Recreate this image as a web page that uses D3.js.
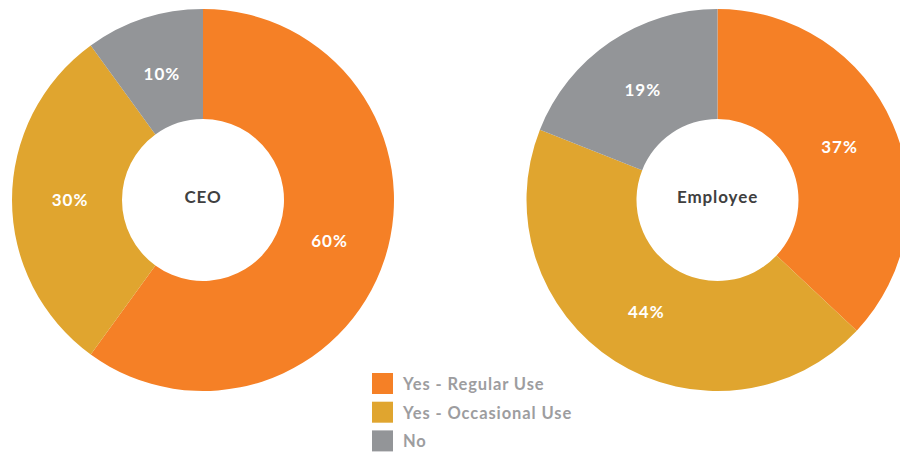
<!DOCTYPE html>
<html>
<head>
<meta charset="utf-8">
<script src="https://cdn.jsdelivr.net/npm/d3@7"></script>
<style>
  html, body { margin: 0; padding: 0; background: #ffffff; }
  svg { display: block; }
  text { font-family: Lato, "Open Sans", sans-serif; }
</style>
</head>
<body>
<svg id="chart" width="900" height="453"></svg>
<script>
// Response categories shared by both donuts
const categories = ["Yes - Regular Use", "Yes - Occasional Use", "No"];
const colors = ["#F58026", "#E0A52F", "#939598"];

// Share of respondents (%) per group
const groupNames = ["CEO", "Employee"];
const ceoValues = [60, 30, 10];
const employeeValues = [37, 44, 19];

const width = 900, height = 453;
const outerR = 191, innerR = 81, labelR = 133;

const svg = d3.select("#chart");

const color = d3.scaleOrdinal().domain(categories).range(colors);

// horizontal placement of the two donuts
const x = d3.scalePoint().domain(groupNames).range([203, 717.5]);
const cy = 200;

const pie = d3.pie().sort(null).value(d => d.value);
const arc = d3.arc().innerRadius(innerR).outerRadius(outerR);
const labelArc = d3.arc().innerRadius(labelR).outerRadius(labelR);

const groups = [
  { name: "CEO", values: ceoValues },
  { name: "Employee", values: employeeValues }
];

groups.forEach(gd => {
  const data = categories.map((c, i) => ({ category: c, value: gd.values[i] }));
  const g = svg.append("g").attr("transform", `translate(${x(gd.name)},${cy})`);
  const arcs = pie(data);

  g.selectAll("path")
    .data(arcs)
    .join("path")
    .attr("d", arc)
    .attr("fill", d => color(d.data.category));

  g.selectAll("text.pct")
    .data(arcs)
    .join("text")
    .attr("class", "pct")
    .attr("transform", d => `translate(${labelArc.centroid(d)})`)
    .attr("text-anchor", "middle")
    .attr("dy", "0.36em")
    .attr("fill", "#ffffff")
    .attr("font-size", 17)
    .attr("font-weight", 700)
    .attr("letter-spacing", "1px")
    .text(d => d.data.value + "%");

  // group name in the donut hole
  g.append("text")
    .attr("text-anchor", "middle")
    .attr("dy", "0.17em")
    .attr("fill", "#404040")
    .attr("font-size", 17)
    .attr("font-weight", 700)
    .attr("letter-spacing", "0.9px")
    .text(gd.name);
});

// Legend
const legend = svg.append("g").attr("transform", "translate(372,373)");
const rowH = 28.7;
const items = legend.selectAll("g")
  .data(categories)
  .join("g")
  .attr("transform", (d, i) => `translate(0,${i * rowH})`);

items.append("rect")
  .attr("width", 21)
  .attr("height", 21)
  .attr("fill", d => color(d));

items.append("text")
  .attr("x", 31)
  .attr("y", 17)
  .attr("fill", "#9d9d9f")
  .attr("font-size", 16.5)
  .attr("font-weight", 700)
  .attr("letter-spacing", "0.9px")
  .text(d => d);
</script>
</body>
</html>
